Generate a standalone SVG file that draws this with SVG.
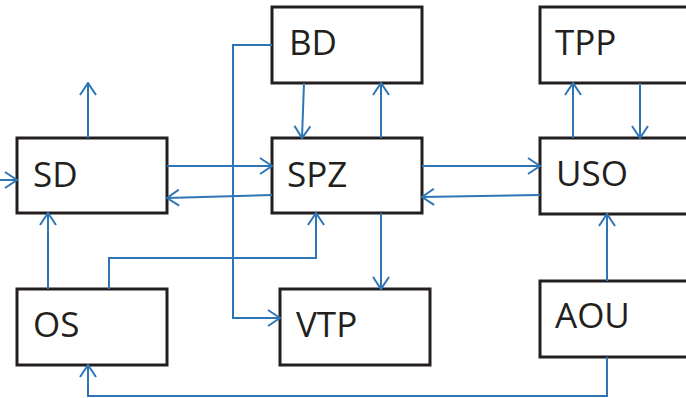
<svg xmlns="http://www.w3.org/2000/svg" width="686" height="398" viewBox="0 0 686 398">
<defs>
<marker id="ah" viewBox="0 0 14 18" refX="13" refY="9" markerWidth="14" markerHeight="18" markerUnits="userSpaceOnUse" orient="auto">
<path d="M1,1 L13,9 L1,17" fill="none" stroke="#2E75B6" stroke-width="2"/>
</marker>
</defs>
<style>
.box{fill:#fff;stroke:#231f20;stroke-width:3}
.lbl{font-family:"Open Sans","Noto Sans",sans-serif;font-size:35px;fill:#231f20}
.c{fill:none;stroke:#2E75B6;stroke-width:2}
.a{marker-end:url(#ah)}
</style>
<rect width="686" height="398" fill="#fff"/>
<g id="SD"><rect class="box" x="17" y="138" width="150" height="75"/><text class="lbl" x="33" y="187">SD</text></g>
<g id="BD"><rect class="box" x="272" y="7" width="150" height="76"/><text class="lbl" x="289" y="55">BD</text></g>
<g id="SPZ"><rect class="box" x="272" y="138" width="150" height="75"/><text class="lbl" x="287" y="187">SPZ</text></g>
<g id="TPP"><rect class="box" x="540" y="7" width="160" height="76"/><text class="lbl" x="555" y="55">TPP</text></g>
<g id="USO"><rect class="box" x="540" y="138" width="160" height="76"/><text class="lbl" x="556" y="186">USO</text></g>
<g id="OS"><rect class="box" x="17" y="289" width="150" height="76"/><text class="lbl" x="33" y="337">OS</text></g>
<g id="VTP"><rect class="box" x="280" y="289" width="150" height="76"/><text class="lbl" x="296" y="337">VTP</text></g>
<g id="AOU"><rect class="box" x="540" y="281" width="160" height="76"/><text class="lbl" x="555" y="328">AOU</text></g>
<g id="connectors">
<path class="c a" d="M88,138 V83"/>
<path class="c a" d="M0,180 H17"/>
<path class="c a" d="M167,166 H272"/>
<path class="c a" d="M272,195 L167,198"/>
<path class="c a" d="M304,83 L302,138"/>
<path class="c a" d="M272,45 H233 V318 H280"/>
<path class="c a" d="M381,138 V83"/>
<path class="c a" d="M381,213 V289"/>
<path class="c a" d="M422,166 H540"/>
<path class="c a" d="M540,195 L422,197"/>
<path class="c a" d="M573,138 V83"/>
<path class="c a" d="M640,83 V138"/>
<path class="c a" d="M607,281 V214"/>
<path class="c a" d="M607,357 V396 H88 V365"/>
<path class="c a" d="M48,289 V213"/>
<path class="c a" d="M109,289 V258 H316 V213"/>
</g>
</svg>
